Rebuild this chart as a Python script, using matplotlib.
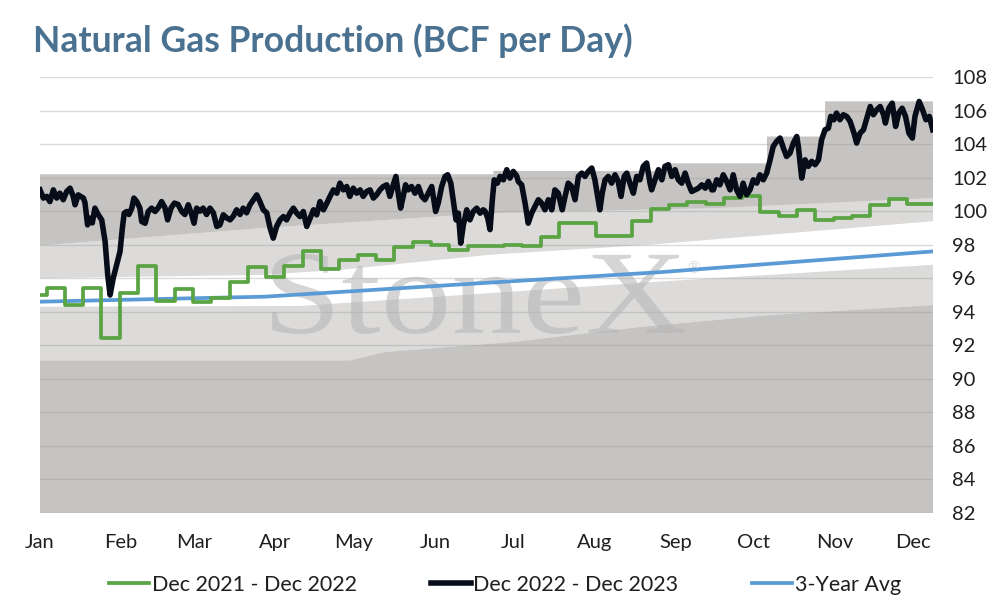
import numpy as np
import matplotlib.pyplot as plt
from matplotlib.textpath import TextPath
from matplotlib.patches import PathPatch
from matplotlib.font_manager import FontProperties
from matplotlib.transforms import Affine2D, IdentityTransform

plt.rcParams['font.family'] = ['Lato', 'DejaVu Sans']

# x axis is day of year (0 = Jan 1), data runs to about Dec 8
x_end = 341.5
month_days = [0, 31, 59, 90, 120, 151, 181, 212, 243, 273, 304, 334]
month_labels = ['Jan', 'Feb', 'Mar', 'Apr', 'May', 'Jun', 'Jul', 'Aug', 'Sep', 'Oct', 'Nov', 'Dec']

# background range bands
band_low_days = [0, 118.5, 131.9, 180.9, 229.8, 278.8, 341.5]
band_low_vals = [91.1, 91.1, 91.6, 92.2, 93.1, 93.8, 94.4]
white_low_days = [0, 100, 237, 341.5]
white_low_vals = [94.3, 94.35, 95.8, 96.8]
white_high_days = [0, 85.3, 114.7, 172.1, 233.3, 341.5]
white_high_vals = [96.0, 96.2, 96.5, 97.4, 98.0, 99.4]
dark_low_days = [0, 86.0, 172.1, 258.1, 341.5]
dark_low_vals = [97.95, 99.0, 99.88, 100.18, 100.78]
max_step_days = [0, 173.4, 239.8, 278.0, 300.2]
max_step_vals = [102.2, 102.4, 102.85, 104.45, 106.55]

# Dec 2021 - Dec 2022, weekly values
green_days = [0] + [2.5 + 7 * k for k in range(49)]
green_vals = [95.0, 95.4, 94.4, 95.4, 92.46, 95.1, 96.74, 94.65, 95.35, 94.6, 94.8,
              95.8, 96.64, 96.1, 96.75, 97.62, 96.53, 97.1, 97.4, 97.1, 97.85, 98.19,
              97.99, 97.7, 97.93, 97.95, 98.0, 97.9, 98.45, 99.28, 99.28, 98.5, 98.5,
              99.44, 100.14, 100.34, 100.54, 100.42, 100.81, 100.9, 99.94, 99.74, 100.08,
              99.48, 99.62, 99.72, 100.38, 100.74, 100.42, 100.42]

# Dec 2022 - Dec 2023
black_days = [0.0, 1.3, 2.6, 3.8, 5.1, 6.4, 7.6, 8.9, 10.2, 11.5, 12.7, 13.4, 14.6, 16.6,
              17.2, 18.2, 19.1, 20.0, 21.0, 22.3, 23.6, 24.9, 25.9, 26.8, 28.0, 29.3, 30.6,
              31.5, 32.2, 33.2, 34.0, 35.1, 35.9, 37.0, 38.2, 38.9, 40.2, 41.4, 42.7, 44.0,
              45.2, 46.5, 47.8, 48.8, 50.1, 51.4, 52.8, 54.2, 55.4, 56.7, 58.0, 58.9, 59.9,
              61.2, 62.4, 63.7, 65.0, 66.3, 67.6, 68.8, 70.1, 71.4, 72.7, 73.9, 75.2, 76.5,
              77.7, 79.0, 80.3, 81.6, 82.9, 84.1, 85.4, 86.7, 88.0, 89.2, 90.5, 91.8, 93.1,
              94.3, 95.6, 96.9, 98.2, 99.4, 100.7, 102.0, 103.3, 104.6, 105.8, 107.1, 108.4,
              109.7, 110.9, 112.2, 113.5, 114.7, 116.0, 117.3, 118.5, 119.8, 121.1, 122.4,
              123.6, 124.9, 126.2, 127.5, 128.7, 130.0, 131.3, 132.6, 133.8, 135.1, 136.1,
              137.0, 137.9, 138.9, 139.8, 140.8, 142.1, 143.4, 144.7, 146.0, 147.2, 148.5,
              149.8, 150.4, 151.3, 152.3, 153.6, 154.9, 155.9, 157.1, 158.0, 159.1, 160.0,
              160.9, 161.9, 163.2, 164.4, 165.7, 167.0, 168.3, 169.5, 170.2, 171.2, 172.1,
              173.0, 173.7, 174.9, 175.9, 177.2, 178.5, 179.7, 181.0, 182.3, 182.9, 184.2,
              185.5, 186.7, 188.0, 189.3, 190.6, 191.8, 193.1, 194.4, 195.7, 196.9, 198.2,
              199.7, 200.8, 202.0, 203.3, 204.6, 205.9, 207.2, 208.4, 209.7, 211.0, 212.2,
              214.1, 215.0, 216.1, 217.3, 218.6, 219.9, 221.1, 222.2, 223.4, 224.4, 225.6,
              226.9, 228.2, 229.4, 230.7, 232.0, 233.3, 233.9, 235.2, 236.5, 237.8, 239.0,
              240.3, 241.6, 242.9, 244.1, 245.4, 246.7, 247.9, 249.2, 250.5, 251.8, 253.1,
              254.4, 255.6, 256.9, 257.5, 258.8, 260.0, 261.3, 262.6, 263.9, 265.1, 266.4,
              267.7, 268.9, 270.2, 271.5, 272.8, 274.1, 275.3, 276.6, 277.9, 279.2, 280.4,
              281.7, 283.0, 284.3, 285.5, 286.8, 288.1, 289.4, 290.0, 291.3, 292.6, 293.8,
              295.1, 296.4, 297.7, 298.9, 300.2, 301.5, 302.4, 303.6, 304.6, 305.9, 307.2,
              308.5, 309.8, 311.3, 312.3, 313.6, 314.9, 316.2, 317.5, 318.7, 320.0, 321.3,
              322.6, 323.3, 324.6, 325.9, 327.2, 328.4, 329.7, 331.0, 332.3, 333.6, 334.6,
              336.2, 337.5, 338.8, 340.1, 341.4]
black_vals = [101.27, 100.78, 100.88, 100.57, 101.27, 100.78, 101.07, 100.68, 101.17, 101.37,
              100.88, 100.38, 100.97, 100.78, 100.5, 99.18, 99.58, 99.3, 100.18, 99.78, 99.48,
              98.19, 96.2, 95.0, 96.0, 96.8, 97.59, 98.99, 99.88, 99.98, 99.8, 100.18, 100.78,
              100.57, 100.18, 99.38, 99.28, 99.98, 100.18, 99.98, 100.2, 100.57, 100.2, 99.48,
              100.18, 100.48, 100.4, 99.98, 99.8, 100.38, 99.8, 99.28, 100.18, 100.0, 100.18,
              99.8, 100.18, 99.9, 99.09, 99.18, 99.78, 99.6, 99.48, 99.7, 100.08, 99.8, 100.18,
              99.9, 100.38, 100.68, 100.97, 100.57, 100.08, 99.9, 98.99, 98.39, 99.09, 99.48,
              99.68, 99.48, 99.88, 100.18, 99.88, 99.68, 99.98, 99.09, 99.58, 100.08, 99.78,
              100.57, 100.08, 100.48, 100.88, 101.27, 101.07, 101.67, 101.27, 101.47, 100.88,
              101.37, 101.07, 101.27, 100.88, 101.17, 101.27, 100.78, 100.97, 101.27, 101.47,
              101.57, 100.88, 101.57, 102.07, 101.07, 100.18, 100.88, 101.57, 101.27, 101.47,
              101.07, 101.47, 100.88, 100.68, 101.07, 101.47, 100.88, 99.98, 100.48, 101.47,
              102.07, 102.17, 101.67, 100.68, 99.48, 99.88, 98.09, 99.18, 100.08, 99.48, 99.98,
              100.18, 99.88, 100.08, 100.0, 99.6, 98.9, 100.7, 101.87, 101.67, 102.07, 101.87,
              102.47, 101.97, 102.37, 102.1, 101.77, 101.57, 100.48, 99.28, 99.88, 100.28,
              100.68, 100.48, 100.08, 100.68, 100.08, 101.27, 101.07, 100.08, 100.88, 101.67,
              101.47, 100.68, 102.07, 102.27, 102.07, 102.37, 102.57, 101.87, 100.08, 101.07,
              101.87, 102.07, 101.67, 102.17, 101.77, 100.88, 102.07, 102.27, 101.67, 101.07,
              102.07, 101.87, 102.67, 102.87, 101.67, 101.27, 101.87, 102.47, 101.87, 102.67,
              102.77, 102.07, 102.47, 101.87, 101.67, 102.27, 101.67, 101.17, 101.27, 101.37,
              101.57, 101.37, 101.77, 101.27, 101.27, 101.87, 101.57, 102.17, 101.77, 101.27,
              102.17, 101.27, 100.88, 101.67, 100.98, 101.27, 101.87, 101.67, 102.17, 101.87,
              102.27, 103.06, 103.86, 104.16, 104.36, 103.76, 103.26, 103.46, 104.06, 104.45,
              103.86, 101.97, 103.06, 102.67, 102.97, 102.77, 103.06, 104.26, 104.85, 104.95,
              105.65, 105.45, 105.85, 105.45, 105.75, 105.65, 105.35, 104.65, 104.06, 104.65,
              104.85, 105.55, 106.24, 105.75, 106.05, 106.24, 105.75, 105.25, 106.14, 106.44,
              105.05, 105.85, 106.14, 105.65, 104.65, 104.36, 105.65, 106.54, 106.05, 105.45,
              105.65, 104.85]

# 3-Year Avg
blue_days = [0, 42.1, 86.0, 172.1, 237.1, 341.5]
blue_vals = [94.6, 94.75, 94.9, 95.74, 96.36, 97.6]

W, H = 994, 606
fig = plt.figure(figsize=(W / 100, H / 100), dpi=100)
ax = fig.add_axes([40 / W, 1 - 513 / H, (933 - 40) / W, (513 - 77) / H])

band_col = '#9c9a98'
dark_a = 0.576
light_a = 0.354

# upper dark band: dark_low up to stepped max
edges = max_step_days + [x_end]
sx = np.repeat(edges, 2)[1:-1]
sy = np.repeat(max_step_vals, 2)
ax.fill(np.concatenate([dark_low_days, sx[::-1]]),
        np.concatenate([dark_low_vals, sy[::-1]]), color=band_col, alpha=dark_a, lw=0, zorder=1)
ax.fill(np.concatenate([white_high_days, dark_low_days[::-1]]),
        np.concatenate([white_high_vals, dark_low_vals[::-1]]), color=band_col, alpha=light_a, lw=0, zorder=1)
ax.fill(np.concatenate([band_low_days, white_low_days[::-1]]),
        np.concatenate([band_low_vals, white_low_vals[::-1]]), color=band_col, alpha=light_a, lw=0, zorder=1)
ax.fill(np.concatenate([[0, x_end], band_low_days[::-1]]),
        np.concatenate([[82, 82], band_low_vals[::-1]]), color=band_col, alpha=dark_a, lw=0, zorder=1)

# watermark
tp = TextPath((0, 0), 'StoneX', size=100, prop=FontProperties(family='Liberation Serif'))
ext = tp.get_extents()
wm_tr = Affine2D().translate(-ext.x0, -ext.y0).scale(413 / ext.width, 80 / ext.height).translate(272, H - 334)
ax.add_patch(PathPatch(tp, transform=wm_tr, facecolor='#b4b4b4', edgecolor='none', alpha=0.55, zorder=1.5))
ax.text(694, H - 269, '\u00ae', transform=IdentityTransform(), fontsize=12, family='Liberation Serif',
        color='#b4b4b4', alpha=0.55, ha='center', va='center', zorder=1.5)

ax.plot(blue_days, blue_vals, color='#5b9bd5', lw=2.7, zorder=3, label='3-Year Avg')
ax.step(green_days + [x_end], green_vals + [green_vals[-1]], where='post', color='#5aa444', lw=2.7,
        zorder=4, label='Dec 2021 - Dec 2022')
ax.plot(black_days, black_vals, color='#060d19', lw=4.0, zorder=5, label='Dec 2022 - Dec 2023')

ax.set_xlim(0, x_end)
ax.set_ylim(82, 108)
ax.set_yticks(np.arange(82, 109, 2))
ax.set_xticks(month_days)
ax.set_xticklabels(month_labels)
ax.yaxis.tick_right()
ax.tick_params(axis='both', length=0, labelsize=14.5, colors='#1f1f1f')
ax.tick_params(axis='y', pad=14)
ax.tick_params(axis='x', pad=15)
ax.grid(axis='y', color='#d9d9d9', lw=1.0)
ax.set_axisbelow(True)
for s in ax.spines.values():
    s.set_visible(False)

fig.text(33 / W, 1 - 52 / H, 'Natural Gas Production (BCF per Day)', fontsize=25.6, fontweight='bold',
         color='#4b7190', ha='left', va='baseline')

h, l = ax.get_legend_handles_labels()
order = [1, 2, 0]
fig.legend([h[i] for i in order], [l[i] for i in order], loc='center', bbox_to_anchor=(505 / W, 21 / H),
           ncol=3, frameon=False, fontsize=15.5, handlelength=1.86, handletextpad=0.12,
           columnspacing=3.44, borderaxespad=0, labelcolor='#1f1f1f')

fig.savefig('out.png', dpi=100)
